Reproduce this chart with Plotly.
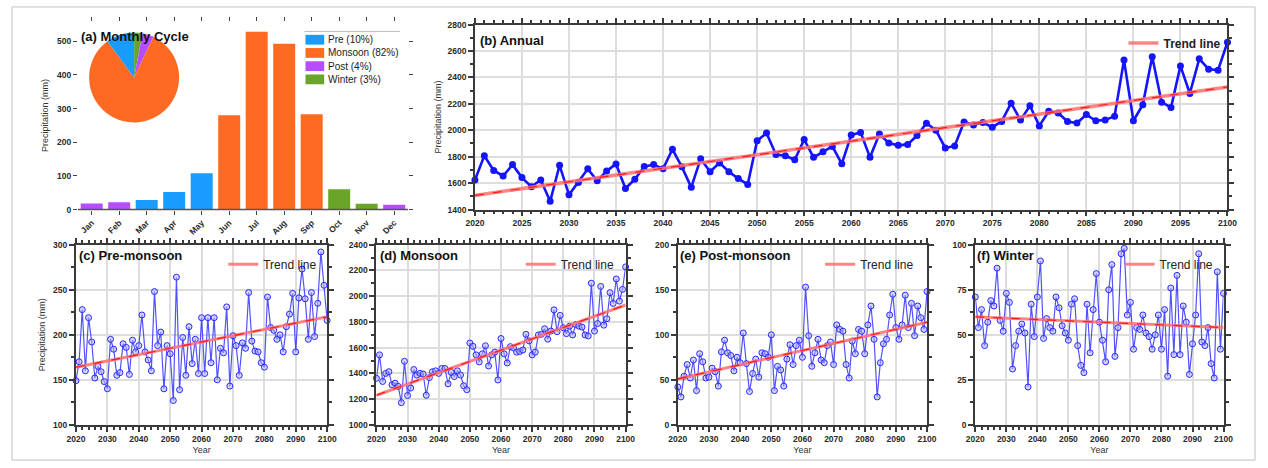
import plotly.graph_objects as go

# ---------------- data ----------------
months = ["Jan", "Feb", "Mar", "Apr", "May", "Jun", "Jul", "Aug", "Sep", "Oct", "Nov", "Dec"]
monthly_precip = [18, 22, 28, 52, 108, 280, 528, 492, 283, 60, 17, 14]
month_season = ["Post", "Post", "Pre", "Pre", "Pre", "Monsoon", "Monsoon", "Monsoon", "Monsoon",
                "Winter", "Winter", "Post"]

seasons = ["Pre", "Monsoon", "Post", "Winter"]
season_share = [10, 82, 4, 3]
season_colors = {"Pre": "#1a9cff", "Monsoon": "#ff6a22", "Post": "#b84dff", "Winter": "#6aa52a"}
pie_order = ["Winter", "Post", "Monsoon", "Pre"]

years = list(range(2020, 2101))

annual = [1624, 1807, 1696, 1654, 1740, 1642, 1573, 1624, 1462, 1735,
          1511, 1605, 1708, 1617, 1691, 1745, 1560, 1629, 1725, 1740,
          1708, 1856, 1723, 1568, 1785, 1686, 1753, 1686, 1634, 1590,
          1920, 1979, 1817, 1807, 1777, 1930, 1795, 1837, 1878, 1746,
          1964, 1984, 1795, 1972, 1903, 1886, 1893, 1960, 2053, 2001,
          1866, 1881, 2063, 2040, 2058, 2023, 2067, 2205, 2077, 2185,
          2033, 2144, 2131, 2067, 2055, 2119, 2072, 2077, 2107, 2531,
          2072, 2193, 2556, 2212, 2173, 2487, 2278, 2541, 2462, 2455,
          2666]

pre_monsoon = [149, 170, 228, 160, 219, 192, 152, 165, 159, 148,
               140, 195, 184, 155, 158, 190, 186, 156, 194, 181,
               188, 222, 181, 172, 160, 248, 188, 203, 140, 188,
               179, 127, 264, 139, 197, 155, 209, 168, 195, 157,
               219, 157, 219, 169, 219, 150, 185, 180, 231, 143,
               199, 188, 155, 191, 185, 247, 193, 182, 181, 169,
               164, 242, 208, 205, 195, 200, 181, 209, 223, 246,
               181, 241, 273, 240, 195, 247, 198, 235, 292, 255,
               216]

monsoon = [1362, 1544, 1337, 1400, 1413, 1311, 1324, 1299, 1172, 1494,
           1228, 1286, 1430, 1387, 1400, 1395, 1230, 1367, 1413, 1420,
           1400, 1438, 1438, 1319, 1408, 1375, 1420, 1387, 1304, 1273,
           1636, 1610, 1544, 1489, 1552, 1615, 1458, 1544, 1565, 1349,
           1671, 1552, 1481, 1608, 1598, 1565, 1570, 1582, 1704, 1653,
           1544, 1565, 1699, 1704, 1747, 1666, 1729, 1894, 1724, 1851,
           1755, 1709, 1767, 1699, 1780, 1767, 1760, 1699, 1691, 2101,
           1729, 1787, 2076, 1775, 1825, 2028, 1944, 2134, 1962, 2053,
           2228]

post_monsoon = [42, 31, 54, 67, 52, 72, 38, 79, 70, 52,
                53, 63, 59, 43, 81, 94, 80, 77, 60, 75,
                69, 102, 68, 37, 57, 73, 53, 80, 79, 75,
                100, 38, 65, 61, 43, 73, 89, 67, 88, 94,
                75, 153, 99, 65, 80, 95, 72, 69, 88, 92,
                67, 111, 106, 104, 67, 52, 93, 79, 106, 104,
                79, 111, 132, 95, 31, 69, 90, 95, 122, 145,
                108, 95, 111, 144, 108, 135, 99, 132, 119, 106,
                148]

winter = [71, 54, 64, 44, 57, 69, 66, 87, 58, 52,
          73, 68, 31, 44, 52, 56, 51, 21, 67, 49,
          71, 91, 48, 59, 54, 52, 71, 65, 55, 51,
          47, 67, 70, 44, 33, 29, 67, 40, 64, 84,
          57, 47, 35, 75, 89, 38, 54, 95, 98, 61,
          68, 42, 54, 53, 61, 51, 49, 42, 50, 61,
          42, 64, 27, 76, 39, 83, 39, 66, 57, 28,
          45, 61, 95, 46, 44, 54, 34, 26, 85, 42,
          73]

trend_years = [2020, 2100]
trend_annual = [1507, 2328]
trend_pre = [164, 220]
trend_monsoon = [1230, 1932]
trend_post = [51, 114]
trend_winter = [60, 54]

# ---------------- figure ----------------
W, H = 1268, 468
FONT = "Liberation Sans, Arial, sans-serif"


def px(x):
    return x / W


def py(y):
    return 1 - y / H


fig = go.Figure()

# (a) monthly bars coloured by season
for s in seasons:
    xs = [m for m, ss in zip(months, month_season) if ss == s]
    ys = [v for v, ss in zip(monthly_precip, month_season) if ss == s]
    fig.add_trace(go.Bar(
        x=xs, y=ys, name=s, marker=dict(color=season_colors[s], line=dict(width=0)),
        xaxis="x", yaxis="y", showlegend=False, offsetgroup="m",
    ))

fig.add_trace(go.Pie(
    labels=pie_order,
    values=[season_share[seasons.index(s)] for s in pie_order],
    marker=dict(colors=[season_colors[s] for s in pie_order], line=dict(width=0)),
    sort=False, direction="clockwise", rotation=0, textinfo="none", showlegend=False,
    hoverinfo="label+percent",
    domain=dict(x=[px(80), px(174)], y=[py(120), py(28)]),
))


def trend_pair(xa, ya, vals, leg, halo_w):
    fig.add_trace(go.Scatter(
        x=trend_years, y=vals, mode="lines", name="Trend line",
        line=dict(color="rgba(255,110,110,0.85)", width=halo_w),
        xaxis=xa, yaxis=ya, legend=leg, showlegend=True,
    ))
    fig.add_trace(go.Scatter(
        x=trend_years, y=vals, mode="lines", showlegend=False,
        line=dict(color="#ff1a1a", width=1.2, dash="dash"),
        xaxis=xa, yaxis=ya, hoverinfo="skip",
    ))


# (b) annual series
fig.add_trace(go.Scatter(
    x=years, y=annual, mode="lines+markers", showlegend=False,
    line=dict(color="#1414ff", width=2.6), marker=dict(color="#1414ff", size=7),
    xaxis="x2", yaxis="y2", cliponaxis=False,
))
trend_pair("x2", "y2", trend_annual, "legend2", 3.5)

# (c)-(f) seasonal series
panels = [
    ("x3", "y3", pre_monsoon, trend_pre, "legend3"),
    ("x4", "y4", monsoon, trend_monsoon, "legend4"),
    ("x5", "y5", post_monsoon, trend_post, "legend5"),
    ("x6", "y6", winter, trend_winter, "legend6"),
]
for xa, ya, vals, tr, leg in panels:
    fig.add_trace(go.Scatter(
        x=years, y=vals, mode="lines+markers", showlegend=False,
        line=dict(color="rgba(50,50,255,0.85)", width=1.2),
        marker=dict(symbol="circle", size=6, color="rgba(175,175,255,0.55)",
                    line=dict(color="#2a2aff", width=1)),
        xaxis=xa, yaxis=ya, cliponaxis=False,
    ))
    trend_pair(xa, ya, tr, leg, 3)

tick_font = dict(family=FONT, size=8.5, color="#2a2a2a", weight="bold")
title_font = dict(family=FONT, size=9, color="#333333")


def frame_axis(**kw):
    base = dict(
        showline=True, linecolor="#3a3a3a", linewidth=2, mirror="ticks",
        ticks="outside", ticklen=5, tickwidth=1.5, tickcolor="#3a3a3a",
        showgrid=True, gridcolor="#dddddd", gridwidth=1.5, zeroline=False,
        tickfont=tick_font,
    )
    base.update(kw)
    return base


layout_axes = dict(
    # (a)
    xaxis=dict(domain=[px(70), px(405)], anchor="y", type="category",
               categoryorder="array", categoryarray=months, range=[-0.5, 11.5],
               tickangle=-45, ticks="outside", ticklen=4, tickcolor="#444", mirror="ticks",
               showline=False, showgrid=False, tickfont=tick_font),
    yaxis=dict(domain=[py(209), py(17)], anchor="x", range=[0, 558], dtick=100,
               ticks="outside", ticklen=4, tickcolor="#444", mirror="ticks",
               showline=False, showgrid=False, zeroline=False, tickfont=tick_font,
               title=dict(text="Precipitation (mm)", font=title_font, standoff=6)),
    # (b)
    xaxis2=frame_axis(domain=[px(473), px(1237)], anchor="y2", range=[2020, 2100], dtick=5,
                      linewidth=1.5, minor=dict(dtick=1, ticks="outside", ticklen=3, tickcolor="#3a3a3a")),
    yaxis2=frame_axis(domain=[py(209), py(20)], anchor="x2", range=[1400, 2800], dtick=200,
                      linewidth=1.5, minor=dict(dtick=100, ticks="outside", ticklen=3, tickcolor="#3a3a3a"),
                      title=dict(text="Precipitation (mm)", font=title_font, standoff=4)),
)

bottom = [
    ("3", 68, 323, [100, 300], 50, 25, "Precipitation (mm)"),
    ("4", 373, 626, [1000, 2400], 200, 100, None),
    ("5", 679, 932, [0, 200], 50, 25, None),
    ("6", 981, 1233, [0, 100], 25, 12.5, None),
]
for k, x0, x1, yr, dy, mdy, ytitle in bottom:
    layout_axes[f"xaxis{k}"] = frame_axis(
        domain=[px(x0), px(x1)], anchor=f"y{k}", range=[2020, 2100], dtick=10,
        minor=dict(dtick=2, ticks="outside", ticklen=3, tickcolor="#3a3a3a"),
        title=dict(text="Year", font=title_font, standoff=4))
    ya = frame_axis(domain=[py(429), py(245)], anchor=f"x{k}", range=yr, dtick=dy,
                    minor=dict(dtick=mdy, ticks="outside", ticklen=3, tickcolor="#3a3a3a"))
    if ytitle:
        ya["title"] = dict(text=ytitle, font=title_font, standoff=6)
    layout_axes[f"yaxis{k}"] = ya


def trend_legend(x_right, y_top, bold=False):
    return dict(x=px(x_right), y=py(y_top), xanchor="right", yanchor="top",
                bgcolor="rgba(0,0,0,0)", borderwidth=0, itemwidth=30,
                font=dict(family=FONT, size=12, color="#222222",
                          weight="bold" if bold else "normal"))


annotations = []
for text, x, y in [("(a) Monthly Cycle", 71, 32), ("(b) Annual", 476, 36),
                   ("(c) Pre-monsoon", 69, 256), ("(d) Monsoon", 375, 256),
                   ("(e) Post-monsoon", 679, 256), ("(f) Winter", 981, 256)]:
    annotations.append(dict(text=f"<b>{text}</b>", x=px(x), y=py(y), xref="paper", yref="paper",
                            xanchor="left", yanchor="middle", showarrow=False,
                            font=dict(family=FONT, size=13, color="#111111")))

# season key for panel (a): coloured boxes with share labels
shapes = [
    dict(type="rect", xref="paper", yref="paper", x0=px(3), x1=px(1265), y0=py(465), y1=py(2),
         line=dict(color="#c0c0c0", width=1)),
    dict(type="line", xref="paper", yref="paper", x0=px(300), x1=px(397), y0=py(27), y1=py(27),
         line=dict(color="#bbbbbb", width=1)),
    dict(type="line", xref="x domain", yref="y domain", x0=0, x1=1, y0=0, y1=0,
         line=dict(color="#555555", width=1.5)),
]
for i, (s, share) in enumerate(zip(seasons, season_share)):
    yc = 35.5 + i * 13.5
    shapes.append(dict(type="rect", xref="paper", yref="paper", x0=px(301), x1=px(320),
                       y0=py(yc + 5), y1=py(yc - 5), fillcolor=season_colors[s], line=dict(width=0)))
    annotations.append(dict(text=f"{s} ({share}%)", x=px(322), y=py(yc), xref="paper", yref="paper",
                            xanchor="left", yanchor="middle", showarrow=False,
                            font=dict(family=FONT, size=10, color="#222222")))

fig.update_layout(
    width=W, height=H, margin=dict(l=0, r=0, t=0, b=0),
    paper_bgcolor="white", plot_bgcolor="white",
    barmode="overlay", bargap=0.2,
    font=dict(family=FONT, size=9, color="#333333"),
    legend2=trend_legend(1236, 24, bold=True),
    legend3=trend_legend(318, 250),
    legend4=trend_legend(620, 250),
    legend5=trend_legend(924, 250),
    legend6=trend_legend(1228, 250),
    annotations=annotations,
    shapes=shapes,
    **layout_axes,
)

fig.write_html("out.html")
